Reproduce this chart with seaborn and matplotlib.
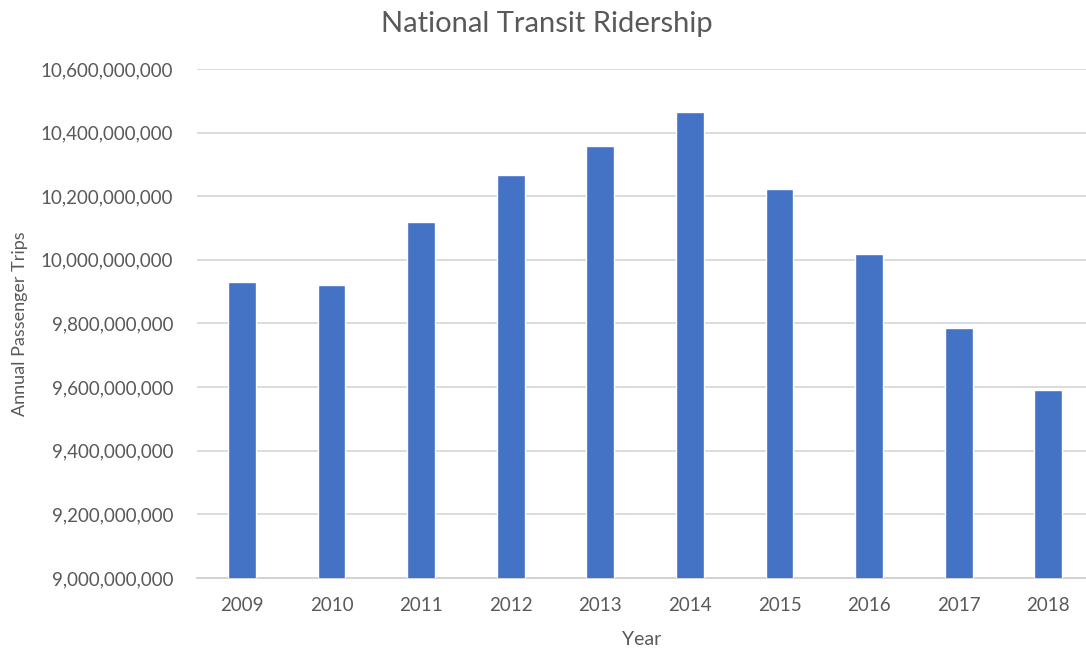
import pandas as pd
import matplotlib.pyplot as plt
import matplotlib.ticker as mticker
import seaborn as sns

# Data
years = ['2009', '2010', '2011', '2012', '2013', '2014', '2015', '2016', '2017', '2018']
trips = [9931000000, 9920000000, 10120000000, 10266000000, 10358000000,
         10466000000, 10223000000, 10019000000, 9786000000, 9590000000]
yticks = [9000000000 + i * 200000000 for i in range(9)]

sns.set_theme(style='white')
plt.rcParams['font.family'] = ['Lato', 'DejaVu Sans']
text_color = '#595959'

df = pd.DataFrame({'Year': years, 'Trips': trips})

fig = plt.figure(figsize=(10.86, 6.49), dpi=100)
ax = fig.add_axes([197 / 1086, 71 / 649, 889 / 1086, 509 / 649])

sns.barplot(data=df, x='Year', y='Trips', color='#4472C4', width=0.31,
            saturation=1, ax=ax, zorder=3)

ax.set_ylim(9000000000, 10600000000)
ax.set_yticks(yticks)
ax.yaxis.set_major_formatter(mticker.FuncFormatter(lambda v, p: f'{v:,.0f}'))
ax.set_xlim(-0.5, 9.42)

ax.grid(axis='y', color='#D9D9D9', linewidth=1.3, zorder=0)
for s in ['top', 'right', 'left']:
    ax.spines[s].set_visible(False)
ax.spines['bottom'].set_color('#D0D0D0')
ax.spines['bottom'].set_linewidth(1.3)
ax.tick_params(axis='both', length=0, labelsize=13.5, labelcolor=text_color)
ax.tick_params(axis='y', pad=17)
ax.tick_params(axis='x', pad=14)

ax.set_xlabel('Year', fontsize=14, color=text_color, labelpad=12)
ax.set_ylabel('Annual Passenger Trips', fontsize=13, color=text_color)
ax.yaxis.set_label_coords(-0.19, 0.5)
fig.text(547 / 1086, 1 - 24 / 649, 'National Transit Ridership',
         fontsize=21, color=text_color, ha='center', va='center')

fig.savefig('out.png', dpi=100)
